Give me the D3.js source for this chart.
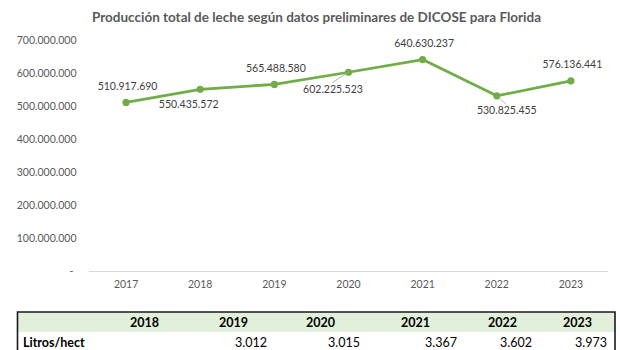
<!DOCTYPE html>
<html>
<head>
<meta charset="utf-8">
<script src="https://cdn.jsdelivr.net/npm/d3@7"></script>
<style>
  html, body { margin: 0; padding: 0; background: #fff; }
  svg { display: block; font-family: Lato, "Open Sans", sans-serif; }
</style>
</head>
<body>
<svg id="chart" width="620" height="350"></svg>
<script>
// Producción total de leche (litros) por año
const years = ["2017", "2018", "2019", "2020", "2021", "2022", "2023"];
const production = [510917690, 550435572, 565488580, 602225523, 640630237, 530825455, 576136441];
// Where each value label sits relative to its point
const labelPlacement = ["above", "belowLeft", "above", "belowLeftLeader", "above", "belowRightLeader", "above"];
const yTicks = [0, 100000000, 200000000, 300000000, 400000000, 500000000, 600000000, 700000000];

// Litros por hectárea
const tableYears = ["2018", "2019", "2020", "2021", "2022", "2023"];
const litrosHect = [null, 3012, 3015, 3367, 3602, 3973];
const tableRowLabel = "Litros/hect";

const title = "Producción total de leche según datos preliminares de DICOSE para Florida";

const esLocale = d3.formatLocale({ decimal: ",", thousands: ".", grouping: [3], currency: ["", ""] });
const fmt = esLocale.format(",d");

const svg = d3.select("#chart");
const textColor = "#404040";
const lineColor = "#70AD47";

// Title
svg.append("text")
  .attr("x", 316.5).attr("y", 21.5)
  .attr("text-anchor", "middle")
  .attr("font-weight", 700)
  .attr("font-size", 13.5)
  .attr("fill", "#595959")
  .attr("textLength", 449)
  .attr("lengthAdjust", "spacingAndGlyphs")
  .text(title);

// Scales
const x = d3.scaleBand().domain(years).range([89, 608]);
const y = d3.scaleLinear().domain([0, 700000000]).range([271, 40]);

// Y axis labels (no line, no ticks)
const yAxis = d3.axisLeft(y)
  .tickValues(yTicks)
  .tickSize(0)
  .tickPadding(0)
  .tickFormat(d => d === 0 ? "-" : fmt(d));
const gy = svg.append("g").attr("transform", "translate(76.5,0)").call(yAxis);
gy.select(".domain").remove();
gy.selectAll("text")
  .attr("font-family", "Lato, sans-serif")
  .attr("font-size", 10.5)
  .attr("fill", "#595959")
  .attr("dx", d => d === 0 ? -3 : 0);

// Baseline
svg.append("line")
  .attr("x1", x.range()[0]).attr("x2", x.range()[1])
  .attr("y1", y(0) + 0.5).attr("y2", y(0) + 0.5)
  .attr("stroke", "#D9D9D9").attr("stroke-width", 1);

// X axis labels
const xAxis = d3.axisBottom(x).tickSize(0).tickPadding(0);
const gx = svg.append("g").attr("transform", `translate(0,${y(0) + 10})`).call(xAxis);
gx.select(".domain").remove();
gx.selectAll("text")
  .attr("font-family", "Lato, sans-serif")
  .attr("font-size", 10.5)
  .attr("fill", "#595959");

const pts = years.map((yr, i) => ({ yr, v: production[i], place: labelPlacement[i],
  px: x(yr) + x.bandwidth() / 2, py: y(production[i]) }));

// Line
svg.append("path")
  .datum(pts)
  .attr("fill", "none")
  .attr("stroke", lineColor)
  .attr("stroke-width", 2.75)
  .attr("stroke-linejoin", "round")
  .attr("d", d3.line().x(d => d.px).y(d => d.py));

// Markers
svg.selectAll("circle.pt").data(pts).join("circle")
  .attr("class", "pt")
  .attr("cx", d => d.px).attr("cy", d => d.py)
  .attr("r", 3.6)
  .attr("fill", lineColor);

// Value labels
const offsets = {
  above: [1.5, -16.5],
  belowLeft: [-11.5, 15],
  belowLeftLeader: [-15.5, 17],
  belowRightLeader: [10, 14.5]
};
pts.forEach(d => {
  const [dx, dy] = offsets[d.place];
  const lx = d.px + dx, ly = d.py + dy;
  if (d.place.endsWith("Leader")) {
    svg.append("line")
      .attr("x1", lx + (dx < 0 ? -1 : -1)).attr("y1", ly - 6.5)
      .attr("x2", d.px).attr("y2", d.py)
      .attr("stroke", "#A6A6A6").attr("stroke-width", 0.8);
  }
  svg.append("text")
    .attr("x", lx).attr("y", ly)
    .attr("dy", "0.35em")
    .attr("text-anchor", "middle")
    .attr("font-size", 10.5)
    .attr("fill", textColor)
    .text(fmt(d.v));
});

// Table
const tableTop = 312, headerH = 20, tableLeft = 17.5, tableRight = 615;
const headerX = d3.scaleOrdinal().domain(tableYears).range([159, 248, 335, 430, 517, 592]);
const valueX = d3.scaleOrdinal().domain(tableYears).range([607, 267, 360, 457, 532, 607]);
svg.append("rect")
  .attr("x", tableLeft).attr("y", tableTop)
  .attr("width", tableRight - tableLeft).attr("height", headerH)
  .attr("fill", "#E2EFDA");
svg.append("path")
  .attr("d", `M${tableLeft},360V${tableTop}H${tableRight}V360`)
  .attr("fill", "none")
  .attr("stroke", "#1a1a1a")
  .attr("stroke-width", 1.6);
svg.selectAll("text.hdr").data(tableYears).join("text")
  .attr("class", "hdr")
  .attr("x", d => headerX(d)).attr("y", tableTop + 11)
  .attr("dy", "0.35em")
  .attr("text-anchor", "end")
  .attr("font-size", 12.5).attr("font-weight", 700)
  .attr("fill", "#000")
  .text(d => d);
svg.append("text")
  .attr("x", 23).attr("y", 343).attr("dy", "0.35em")
  .attr("font-size", 12.5).attr("font-weight", 700)
  .attr("fill", "#000")
  .text(tableRowLabel);
svg.selectAll("text.val").data(tableYears.map((yr, i) => ({ yr, v: litrosHect[i] })).filter(d => d.v != null))
  .join("text")
  .attr("class", "val")
  .attr("x", d => valueX(d.yr)).attr("y", 343)
  .attr("dy", "0.35em")
  .attr("text-anchor", "end")
  .attr("font-size", 12.5)
  .attr("fill", "#000")
  .text(d => fmt(d.v));
</script>
</body>
</html>
